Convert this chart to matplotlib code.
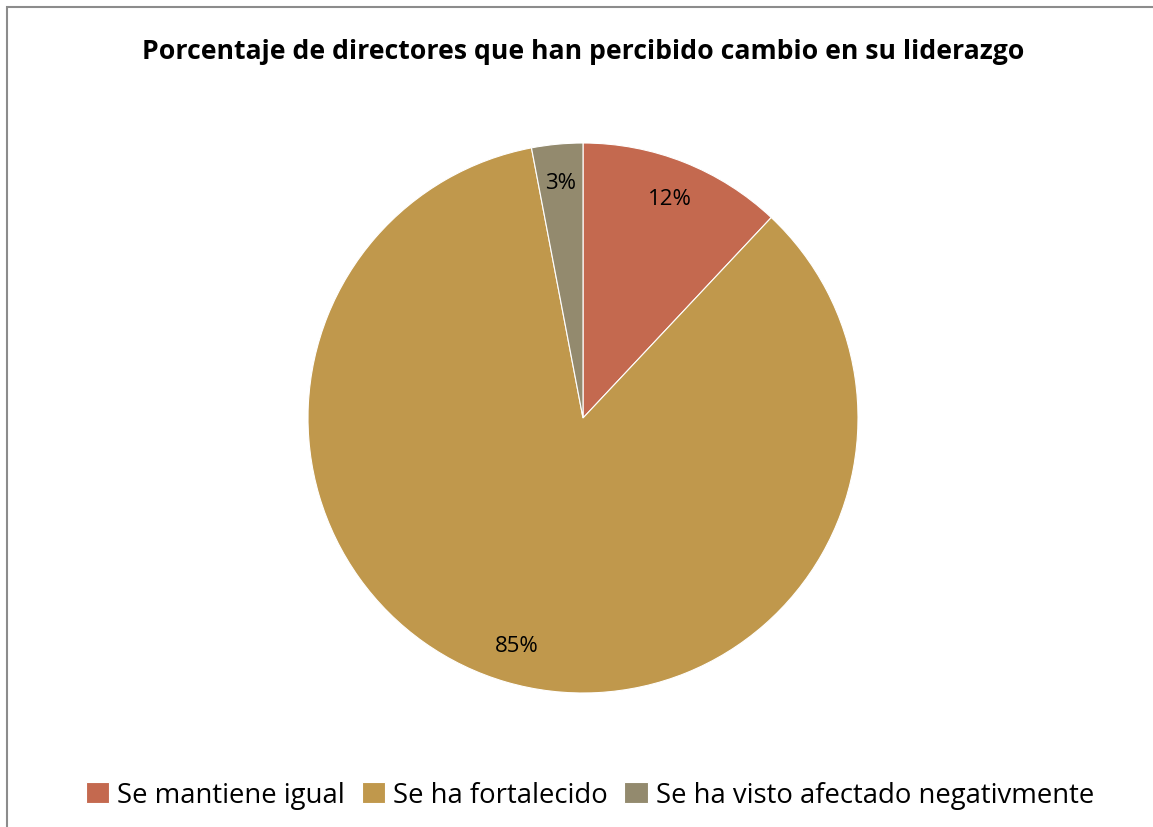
import numpy as np
import matplotlib
matplotlib.use("Agg")
import matplotlib.pyplot as plt
from matplotlib.patches import Rectangle

# Data
categories = ['Se mantiene igual', 'Se ha fortalecido', 'Se ha visto afectado negativmente']
values = [12, 85, 3]
colors = ['#C4694F', '#C0984C', '#938A6E']
title = 'Porcentaje de directores que han percibido cambio en su liderazgo'

plt.rcParams['font.family'] = ['Open Sans', 'DejaVu Sans']

W, H = 1153, 828
fig = plt.figure(figsize=(W / 100, H / 100), dpi=100)

# chart border
fig.patches.append(Rectangle((7 / W, -0.01), 1.02, 1 - 7.5 / H + 0.01, transform=fig.transFigure,
                             fill=False, edgecolor='#8c8c8c', linewidth=1.5))

# pie axes, center (583, 419), radius 275 px
cx, cy, r = 583, 419, 275
ax = fig.add_axes([(cx - r) / W, (H - cy - r) / H, 2 * r / W, 2 * r / H])
wedges, texts, autotexts = ax.pie(values, colors=colors, startangle=90, counterclock=False,
                                  radius=1, autopct='%1.0f%%', pctdistance=0.86,
                                  wedgeprops=dict(edgecolor='white', linewidth=0.8),
                                  textprops=dict(fontsize=16, color='black'))
ax.set_xlim(-1, 1)
ax.set_ylim(-1, 1)
ax.set_aspect('auto')
ax.axis('off')

fig.text(cx / W, 1 - 52 / H, title, ha='center', va='center', fontsize=19.2, fontweight='bold')

leg = fig.legend(wedges, categories, loc='center', bbox_to_anchor=(590 / W, 1 - 796 / H),
                 ncol=3, frameon=False, fontsize=19.8, handlelength=0.85, handleheight=0.85,
                 handletextpad=0.3, columnspacing=0.6)

fig.savefig('out.png', dpi=100)
